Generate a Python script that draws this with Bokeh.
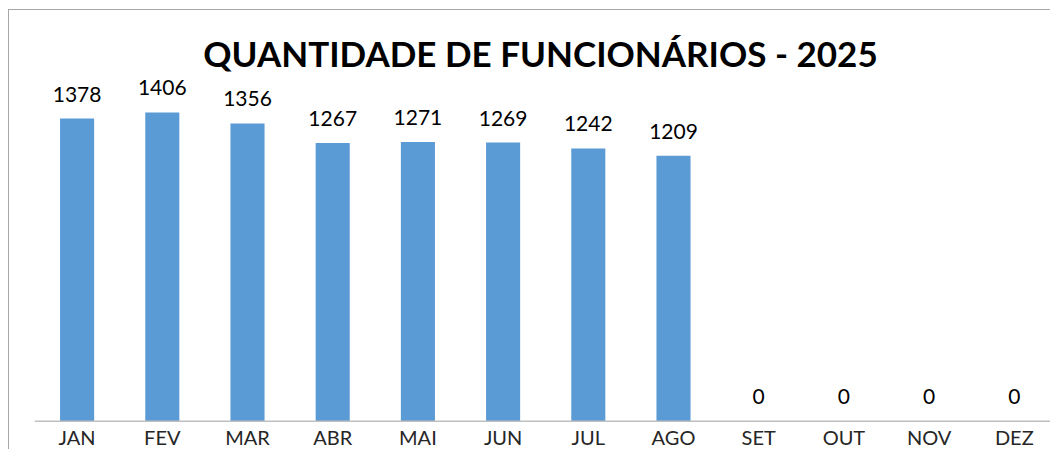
from bokeh.plotting import figure
from bokeh.models import Range1d, Span, Label, ColumnDataSource
from bokeh.core.properties import value
from bokeh.embed import file_html
from bokeh.resources import INLINE

months = ["JAN", "FEV", "MAR", "ABR", "MAI", "JUN", "JUL", "AGO", "SET", "OUT", "NOV", "DEZ"]
employees = [1378, 1406, 1356, 1267, 1271, 1269, 1242, 1209, 0, 0, 0, 0]
title_text = "QUANTIDADE DE FUNCIONÁRIOS - 2025"

# category slots: one unit per month, centred on i + 0.5
slot = [i + 0.5 for i in range(len(months))]

src = ColumnDataSource(dict(
    x=slot,
    month=months,
    count=employees,
    label=[str(v) for v in employees],
    base=[0] * len(months),
))

W, H = 1050, 449
LEFT = 34
p = figure(
    width=W, height=H,
    x_range=Range1d(0, 11.925),
    y_range=Range1d(-129, 1916),
    output_backend="svg", toolbar_location=None,
    min_border_left=LEFT, min_border_right=0, min_border_top=0, min_border_bottom=0,
)
border = "#a6a6a6"
p.styles = {
    "margin-bottom": "-8px",
    "background-image": f"linear-gradient({border}, {border}), linear-gradient({border}, {border})",
    "background-size": "1px 100%, 100% 1px",
    "background-position": "8px 9px, 8px 9px",
    "background-repeat": "no-repeat",
}
p.background_fill_color = None
p.border_fill_color = None
p.outline_line_color = None
p.xaxis.visible = False
p.yaxis.visible = False
p.xgrid.visible = False
p.ygrid.visible = False

p.vbar(x="x", top="count", width=0.4, source=src, color="#5B9BD5", line_color=None)

p.add_layout(Span(location=0, dimension="width", line_color="#bfbfbf", line_width=1.5))

p.text(x="x", y="count", text="label", source=src,
       text_align="center", text_baseline="alphabetic", y_offset=-24.5,
       text_font=value("Lato"), text_font_size="21px", text_color="#000000")

p.text(x="x", y="base", text="month", source=src,
       text_align="center", text_baseline="alphabetic", y_offset=16,
       text_font=value("Lato"), text_font_size="20px", text_color="#262626")

p.add_layout(Label(x=540 - LEFT, y=396.5, x_units="screen", y_units="screen", text=title_text,
                   text_align="center", text_baseline="alphabetic",
                   text_font="Lato", text_font_style="bold", text_font_size="35px",
                   text_color="#000000"))

open("out.html", "w").write(file_html(p, INLINE))
